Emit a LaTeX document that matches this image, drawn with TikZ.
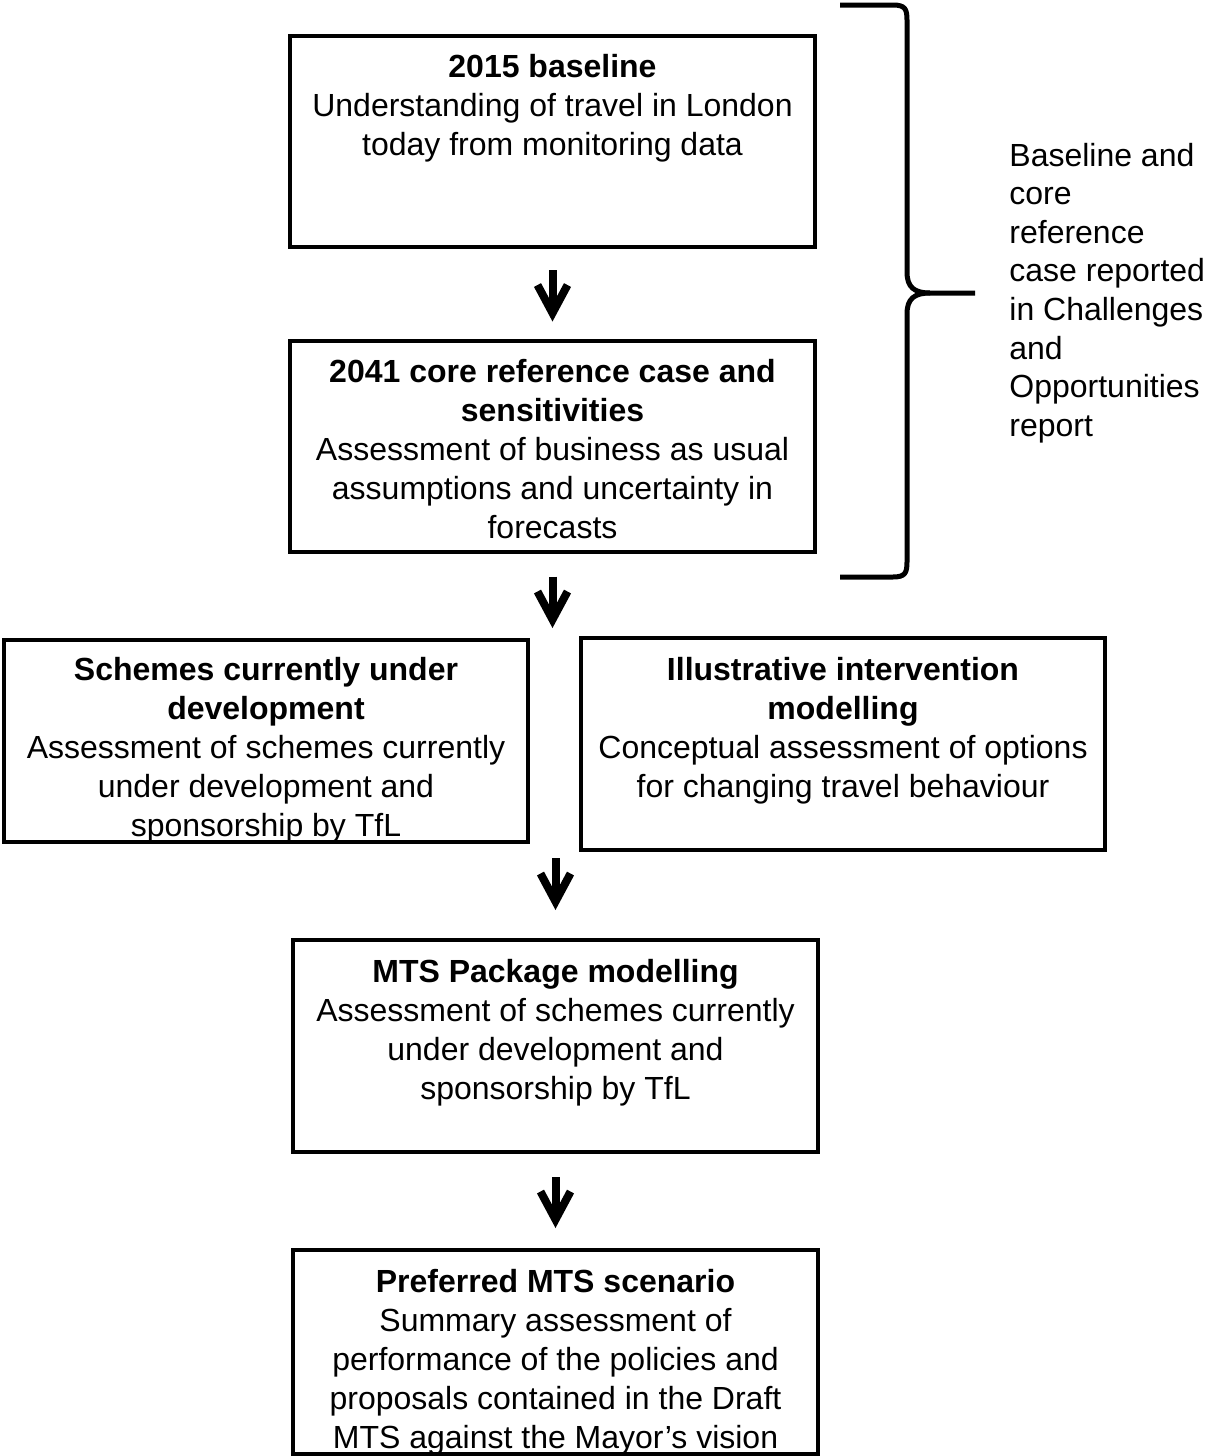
\documentclass[tikz,border=0pt]{standalone}
\usepackage{fontspec}
\setmainfont{Liberation Sans}
\usetikzlibrary{positioning, arrows.meta}

\tikzset{
    stage/.style={draw, line width=2pt, minimum width=262.5pt, minimum height=105.5pt},
    stagetext/.style={align=center, inner sep=0pt, font=\fontsize{16pt}{19.5pt}\selectfont},
    note/.style={align=left, inner sep=0pt, font=\fontsize{16pt}{19.3pt}\selectfont},
    flow/.style={line width=4pt, -{Straight Barb[length=14pt,width=15pt]}},
    bracket/.style={line width=2.5pt, line join=round}
}

\begin{document}
\begin{tikzpicture}[x=0.5pt, y=-0.5pt]
    \useasboundingbox (0,0) rectangle (1207,1456);

    % boxes
    \node[stage] (base) at (552.5,141.5) {};
    \node[stage] (core) at (552.5,446) {};
    \node[stage, minimum width=262pt, minimum height=101pt] (schemes) at (266,741) {};
    \node[stage, minimum width=262pt, minimum height=106pt] (interv) at (843,744) {};
    \node[stage, minimum height=106pt] (mts) at (555.5,1046) {};
    \node[stage, minimum height=102pt] (pref) at (555.5,1352) {};

    % texts
    \node[stagetext, below=10pt of base.north] (base-txt)
        {\textbf{2015 baseline}\\Understanding of travel in London\\today from monitoring data};
    \node[stagetext, below=10pt of core.north] (core-txt)
        {\textbf{2041 core reference case and}\\\textbf{sensitivities}\\Assessment of business as usual\\assumptions and uncertainty in\\forecasts};
    \node[stagetext, below=9.5pt of schemes.north] (schemes-txt)
        {\textbf{Schemes currently under}\\\textbf{development}\\Assessment of schemes currently\\under development and\\sponsorship by TfL};
    \node[stagetext, below=10.5pt of interv.north] (interv-txt)
        {\textbf{Illustrative intervention}\\\textbf{modelling}\\Conceptual assessment of options\\for changing travel behaviour};
    \node[stagetext, below=10.5pt of mts.north] (mts-txt)
        {\textbf{MTS Package modelling}\\Assessment of schemes currently\\under development and\\sponsorship by TfL};
    \node[stagetext, below=10.5pt of pref.north] (pref-txt)
        {\textbf{Preferred MTS scenario}\\Summary assessment of\\performance of the policies and\\proposals contained in the Draft\\MTS against the Mayor’s vision};

    % arrows
    \coordinate (split) at (core.south |- schemes.north);
    \coordinate (join) at (mts.north |- interv.south);
    \draw[flow] ([yshift=-10.5pt]base.south) -- ([yshift=8.5pt]core.north);
    \draw[flow] ([yshift=-11.5pt]core.south) -- ([yshift=5pt]split);
    \draw[flow] ([yshift=-3pt]join) -- ([yshift=14pt]mts.north);
    \draw[flow] ([yshift=-11.5pt]mts.south) -- ([yshift=10pt]pref.north);

    % brace
    \coordinate (tip) at (975,293);
    \draw[bracket] (840,5) -- (893,5) .. controls (905,5) and (907,9) .. (907,20)
        -- (907,272) .. controls (907,287) and (914,293) .. (930,293) -- (tip);
    \draw[bracket] (930,293) .. controls (914,293) and (907,299) .. (907,314)
        -- (907,562) .. controls (907,573) and (905,577) .. (893,577) -- (840,577);
    \node[note, right=17pt of tip] (note)
        {Baseline and\\core\\reference\\case reported\\in Challenges\\and\\Opportunities\\report};
\end{tikzpicture}
\end{document}
